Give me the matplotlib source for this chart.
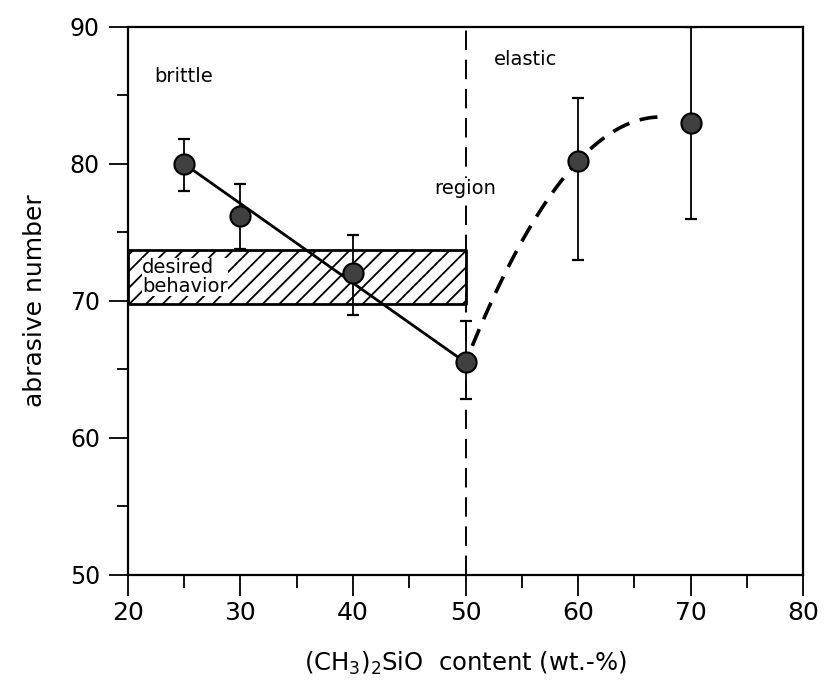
import numpy as np
import matplotlib
matplotlib.use('Agg')
import matplotlib.pyplot as plt

# data
content = [25, 30, 40, 50, 60, 70]
abrasive = [80.0, 76.2, 72.0, 65.5, 80.2, 83.0]
err_low = [78.0, 73.8, 69.0, 62.8, 73.0, 76.0]
err_high = [81.8, 78.5, 74.8, 68.5, 84.8, 90.0]

band_x = [20, 50]
band_low = 69.8
band_high = 73.7
region_border = 50

plt.rcParams['font.family'] = ['DejaVu Sans']
plt.rcParams['hatch.linewidth'] = 1.3

fig = plt.figure(figsize=(8.24, 6.86), dpi=100)
ax = fig.add_axes([0.155, 0.162, 0.82, 0.799])

x = np.array(content)
y = np.array(abrasive)
lo = y - np.array(err_low)
hi = np.array(err_high) - y

# desired behavior band
ax.fill_between(band_x, band_low, band_high, facecolor='white', edgecolor='black',
                hatch='//', linewidth=2, zorder=1)
ax.text(21.3, 71.75, 'desired\nbehavior', fontsize=14, va='center', ha='left',
        linespacing=1.0, zorder=2,
        bbox=dict(facecolor='white', edgecolor='none', pad=0.2))

# border of the elastic region
ax.axvline(region_border, color='black', linestyle=(0, (10, 5)), linewidth=1.4, zorder=1)

# brittle trend: straight line
ax.plot([x[0], x[3]], [y[0], y[3]], color='black', linewidth=2.0, zorder=3)

# elastic trend: dashed quadratic through last three points
coef = np.polyfit(x[3:], y[3:], 2)
xs = np.linspace(x[3] + 0.6, 68, 60)
ax.plot(xs, np.polyval(coef, xs), color='black', linewidth=2.6,
        linestyle=(0, (5, 3)), zorder=3)

ax.errorbar(x, y, yerr=[lo, hi], fmt='none', ecolor='black', elinewidth=1.3,
            capsize=4.5, capthick=1.6, zorder=4)
ax.plot(x, y, 'o', markersize=14.5, markerfacecolor='#404040',
        markeredgecolor='black', markeredgewidth=1.5, zorder=5)

ax.text(22.4, 86.4, 'brittle', fontsize=14, va='center')
ax.text(52.5, 87.6, 'elastic', fontsize=14, va='center')
ax.text(50, 78.2, 'region', fontsize=14, va='center', ha='center', zorder=2,
        bbox=dict(facecolor='white', edgecolor='none', pad=1))

ax.set_xlim(20, 80)
ax.set_ylim(50, 90)
ax.set_xticks(range(20, 81, 10))
ax.set_xticks(range(25, 80, 10), minor=True)
ax.set_yticks(range(50, 91, 10))
ax.set_yticks(range(55, 90, 10), minor=True)

ax.tick_params(axis='x', which='major', direction='out', length=15, width=1.3,
               labelsize=18, pad=4)
ax.tick_params(axis='x', which='minor', direction='out', length=9, width=1.3)
ax.tick_params(axis='y', which='major', direction='out', length=14, width=1.3,
               labelsize=17, pad=6)
ax.tick_params(axis='y', which='minor', direction='out', length=8, width=1.3)

for side in ax.spines.values():
    side.set_linewidth(1.6)

ax.set_xlabel(r'(CH$_3$)$_2$SiO  content (wt.-%)', fontsize=17.5, labelpad=18)
ax.set_ylabel('abrasive number', fontsize=18, labelpad=16)

fig.savefig('out.png', dpi=100)
